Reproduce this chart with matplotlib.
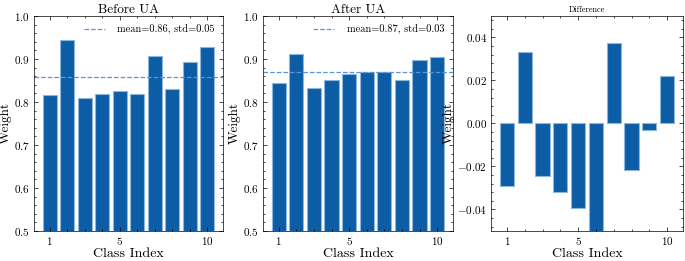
import numpy as np
import matplotlib
matplotlib.use("Agg")
import matplotlib.pyplot as plt
from matplotlib.ticker import MultipleLocator, AutoMinorLocator

plt.rcParams['font.family'] = 'serif'
plt.rcParams['font.serif'] = ['cmr10', 'DejaVu Serif']
plt.rcParams['mathtext.fontset'] = 'cm'
plt.rcParams['axes.formatter.use_mathtext'] = True
plt.rcParams['axes.unicode_minus'] = True

classes = [1, 2, 3, 4, 5, 6, 7, 8, 9, 10]
before = [0.815, 0.944, 0.8085, 0.818, 0.826, 0.819, 0.906, 0.829, 0.894, 0.927]
after = [0.843, 0.911, 0.833, 0.850, 0.864, 0.870, 0.869, 0.851, 0.897, 0.905]
diff = [-0.029, 0.0332, -0.0246, -0.0317, -0.0391, -0.051, 0.0374, -0.0218, -0.0032, 0.0219]
labels = ["mean=0.86, std=0.05", "mean=0.87, std=0.03"]

bar_color = '#0C5DA5'
edge_color = '#8db6dc'
line_color = '#5c95d0'

fig = plt.figure(figsize=(6.85, 2.61), dpi=100)
ax1 = fig.add_axes([0.0496, 0.115, 0.276, 0.824])
ax2 = fig.add_axes([0.384, 0.115, 0.277, 0.824])
ax3 = fig.add_axes([0.717, 0.115, 0.280, 0.824])


def style(ax):
    ax.tick_params(which='both', direction='in', top=True, right=True, labelsize=8)
    ax.tick_params(which='major', length=3, width=0.5, pad=3)
    ax.tick_params(which='minor', length=1.5, width=0.5)
    ax.set_xticks([1, 5, 10])
    ax.xaxis.set_minor_locator(MultipleLocator(1))
    ax.yaxis.set_minor_locator(AutoMinorLocator(5))
    for s in ax.spines.values():
        s.set_linewidth(0.5)
    ax.set_xlabel("Class Index", fontsize=10, labelpad=0.5)
    ax.set_ylabel("Weight", fontsize=9.5, labelpad=1.5)


for ax, vals, lab, title in [(ax1, before, labels[0], "Before UA"),
                             (ax2, after, labels[1], "After UA")]:
    ax.bar(classes, vals, width=0.8, color=bar_color, edgecolor=edge_color, linewidth=0.8)
    ax.axhline(np.mean(vals), color=line_color, linestyle='--', linewidth=0.9, label=lab)
    ax.set_ylim(0.5, 1.0)
    ax.set_title(title, fontsize=9.5, pad=2)
    ax.legend(loc='upper right', frameon=False, fontsize=7.5, handlelength=2.0,
              handletextpad=1.2, borderaxespad=0.4)
    style(ax)

ax3.bar(classes, diff, width=0.8, color=bar_color, edgecolor=edge_color, linewidth=0.8)
ax3.set_ylim(-0.05, 0.05)
ax3.set_yticks([-0.04, -0.02, 0.0, 0.02, 0.04])
ax3.set_title("Difference", fontsize=6, pad=3)
style(ax3)

plt.savefig("out.png", dpi=100)
